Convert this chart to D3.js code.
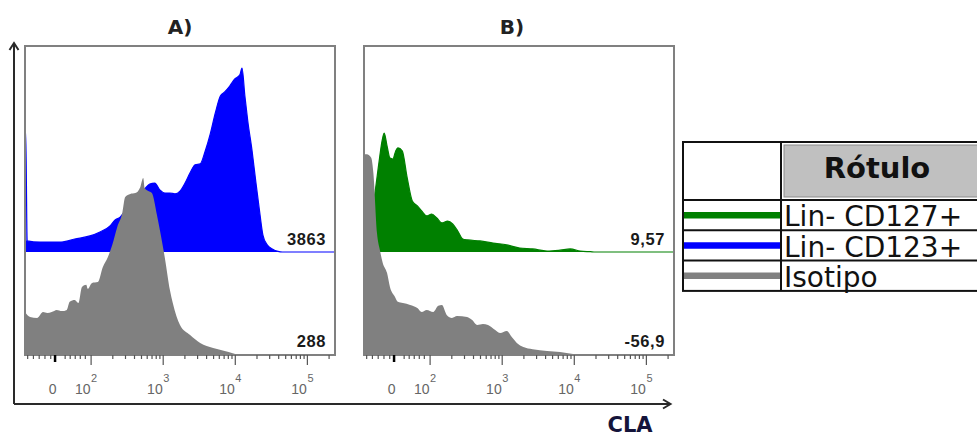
<!DOCTYPE html>
<html>
<head>
<meta charset="utf-8">
<script src="https://cdn.jsdelivr.net/npm/d3@7"></script>
<style>
  body { margin: 0; background: #fff; }
  svg { display: block; }
</style>
</head>
<body>
<svg id="chart" width="977" height="438"></svg>
<script>
// ---- Data -------------------------------------------------------------
// x: display position in log decades (2 = 10^2 ... 5 = 10^5, 1.5 = 0)
// y: events per bin
const panelTitles = ["A)", "B)"];
const legendHeader = "Rótulo";
const legendLabels = ["Lin- CD127+", "Lin- CD123+", "Isotipo"];
const axisTitle = "CLA";

const majorTicks = [1.5, 2, 3, 4, 5];
const majorLabels = [["0", ""], ["10", "2"], ["10", "3"], ["10", "4"], ["10", "5"]];

// Panel A: Lin- CD123+ (offset) over isotype
const cd123A = [
  [1.09, 39], [1.10, 39], [1.12, 3.6], [1.30, 3.2], [1.58, 3.2], [1.78, 4.2],
  [1.99, 5.2], [2.13, 6.5], [2.27, 8.4], [2.34, 10.4], [2.41, 11.3], [2.48, 13.3],
  [2.62, 16.5], [2.75, 20.4], [2.82, 22.0], [2.89, 22.3], [2.96, 20.1], [3.03, 19.1],
  [3.10, 19.1], [3.17, 18.8], [3.24, 19.7], [3.31, 22.3], [3.38, 25.6], [3.45, 28.2],
  [3.52, 28.5], [3.59, 32.7], [3.66, 38.2], [3.73, 45.0], [3.80, 50.5], [3.86, 51.8],
  [3.93, 53.7], [4.00, 56.0], [4.07, 57.3], [4.10, 59.5], [4.14, 50.5], [4.18, 42.4],
  [4.24, 32.7], [4.29, 23.0], [4.35, 12.0], [4.39, 5.5], [4.45, 2.3], [4.52, 1.0],
  [4.60, 0.2], [4.66, 0], [5.39, 0]
];
const isotypeA = [
  [1.09, 13.9], [1.16, 12.3], [1.26, 12.0], [1.34, 13.9], [1.40, 13.6], [1.46, 13.9],
  [1.53, 14.6], [1.60, 14.2], [1.67, 14.6], [1.71, 17.2], [1.78, 17.8], [1.83, 16.8],
  [1.88, 22.0], [1.94, 22.7], [1.96, 21.4], [2.02, 23.3], [2.10, 23.6], [2.17, 28.5],
  [2.24, 31.7], [2.30, 35.6], [2.37, 41.4], [2.44, 46.0], [2.48, 51.1], [2.55, 52.1],
  [2.62, 52.4], [2.69, 54.4], [2.73, 57.3], [2.75, 54.0], [2.80, 53.1], [2.85, 52.4],
  [2.92, 45.3], [2.96, 40.5], [3.03, 31.4], [3.10, 21.0], [3.14, 16.8], [3.24, 9.7],
  [3.38, 6.5], [3.52, 3.9], [3.70, 2.3], [3.86, 1.3], [3.97, 0.6], [4.07, 0], [5.39, 0]
];

// Panel B: Lin- CD127+ (offset) over isotype
const cd127B = [
  [1.09, 4], [1.17, 10], [1.24, 18.8], [1.30, 29.4], [1.34, 35.9], [1.37, 38.5],
  [1.41, 34.3], [1.45, 30.4], [1.49, 30.1], [1.53, 32.7], [1.56, 33.7], [1.62, 32.7],
  [1.69, 23.9], [1.76, 16.5], [1.83, 14.9], [1.89, 13.3], [1.96, 11.7], [2.03, 12.3],
  [2.10, 11.0], [2.17, 9.4], [2.25, 10.0], [2.32, 9.1], [2.39, 6.8], [2.46, 4.2],
  [2.53, 3.9], [2.70, 3.6], [2.88, 2.9], [3.07, 2.3], [3.25, 1.3], [3.43, 1.0],
  [3.63, 0.3], [3.81, 0.6], [3.95, 1.0], [4.09, 0.3], [4.23, 0.1], [4.30, 0], [5.39, 0]
];
const isotypeB = [
  [1.09, 65.0], [1.13, 65.0], [1.19, 63.8], [1.22, 58.9], [1.27, 39.5], [1.31, 34.0],
  [1.35, 29.8], [1.41, 26.5], [1.45, 22.0], [1.52, 18.8], [1.56, 17.2], [1.63, 16.8],
  [1.73, 16.2], [1.83, 15.2], [1.89, 13.9], [1.96, 14.6], [2.05, 13.9], [2.12, 15.9],
  [2.17, 16.2], [2.24, 12.9], [2.31, 12.0], [2.38, 12.6], [2.52, 12.3], [2.59, 11.3],
  [2.66, 9.7], [2.74, 10.0], [2.81, 9.7], [2.91, 8.1], [2.98, 7.1], [3.07, 7.8],
  [3.14, 5.8], [3.21, 3.9], [3.30, 2.6], [3.43, 1.9], [3.63, 1.3], [3.81, 1.0],
  [3.99, 0.3], [4.09, 0], [5.39, 0]
];

// Statistic shown in each panel: [offset series, isotype]
const statsA = ["3863", "288"];
const statsB = ["9,57", "-56,9"];

// ---- Styles / layout --------------------------------------------------
const colors = { cd127: "#008000", cd123: "#0000ff", iso: "#808080" };
const plotTop = 46, plotW = 310, plotH = 309;

const panels = [
  { title: panelTitles[0], left: 25, titleX: 180, upper: cd123A, upperColor: colors.cd123, lower: isotypeA, stats: statsA },
  { title: panelTitles[1], left: 364, titleX: 512, upper: cd127B, upperColor: colors.cd127, lower: isotypeB, stats: statsB }
];

const svg = d3.select("#chart");
svg.append("rect").attr("width", 977).attr("height", 438).attr("fill", "#fff");

const x = d3.scaleLinear().domain([1.09, 5.39]).range([0, plotW]);
const y = d3.scaleLinear().domain([0, 100]).range([plotH, 0]);
const offset = plotH / 3;

// minor ticks: linear zone around zero, then 2..9 x 10^k
const minorTicks = d3.range(1.12, 1.46, 0.08).concat(d3.range(1.64, 1.95, 0.07));
for (let k = 2; k <= 5; k++) {
  for (let m = 2; m <= 9; m++) {
    const v = k + Math.log10(m);
    if (v < 5.39) minorTicks.push(v);
  }
}

const defs = svg.append("defs");

panels.forEach((p, i) => {
  const g = svg.append("g").attr("transform", `translate(${p.left},${plotTop})`);

  defs.append("clipPath").attr("id", "clip" + i)
    .append("rect").attr("width", plotW).attr("height", plotH);

  const body = g.append("g").attr("clip-path", `url(#clip${i})`);

  const upperArea = d3.area()
    .x(d => x(d[0]))
    .y0(plotH - offset)
    .y1(d => y(d[1]) - offset)
    .curve(d3.curveMonotoneX);
  const upperLine = d3.line()
    .x(d => x(d[0]))
    .y(d => y(d[1]) - offset)
    .curve(d3.curveMonotoneX);
  const lowerArea = d3.area()
    .x(d => x(d[0]))
    .y0(plotH)
    .y1(d => y(d[1]))
    .curve(d3.curveMonotoneX);

  body.append("path").datum(p.upper).attr("d", upperArea).attr("fill", p.upperColor);
  body.append("path").datum(p.upper).attr("d", upperLine)
    .attr("fill", "none").attr("stroke", p.upperColor).attr("stroke-width", 1.2);
  body.append("path").datum(p.lower).attr("d", lowerArea).attr("fill", colors.iso);

  // frame
  g.append("rect").attr("width", plotW).attr("height", plotH)
    .attr("fill", "none").attr("stroke", "#808080").attr("stroke-width", 2);

  // statistics
  const statStyle = sel => sel
    .attr("text-anchor", "end")
    .attr("font-family", "'Liberation Sans', Arial, sans-serif")
    .attr("font-weight", "bold").attr("font-size", 16.5)
    .attr("letter-spacing", 0.6)
    .attr("fill", "#1a1a1a");
  g.append("text").attr("x", plotW - 9).attr("y", plotH - offset - 7).text(p.stats[0]).call(statStyle);
  g.append("text").attr("x", plotW - 9).attr("y", plotH - 8).text(p.stats[1]).call(statStyle);

  // axis ticks
  const ax = g.append("g").attr("transform", `translate(0,${plotH})`);
  ax.call(d3.axisBottom(x).tickValues(minorTicks).tickSize(4).tickFormat(""))
    .call(a => a.select(".domain").remove());
  ax.selectAll("line").attr("stroke", "#555").attr("stroke-width", 1.2);

  const axM = g.append("g").attr("transform", `translate(0,${plotH})`);
  axM.call(d3.axisBottom(x).tickValues(majorTicks).tickSize(10).tickFormat(""))
    .call(a => a.select(".domain").remove());
  axM.selectAll("line").attr("stroke", "#555").attr("stroke-width", 1.2);
  axM.selectAll(".tick").filter(d => d === majorTicks[0]).select("line")
    .attr("y2", 7).attr("stroke", "#000").attr("stroke-width", 2.5);

  // tick labels
  majorTicks.forEach((t, j) => {
    const [base, sup] = majorLabels[j];
    const tx = g.append("text")
      .attr("y", plotH + 39)
      .attr("font-family", "'Liberation Sans', Arial, sans-serif")
      .attr("font-size", 14).attr("fill", "#666");
    if (sup) {
      tx.attr("x", x(t)).attr("text-anchor", "end").text(base);
      g.append("text").attr("x", x(t) + 0.5).attr("y", plotH + 27)
        .attr("font-family", "'Liberation Sans', Arial, sans-serif")
        .attr("font-size", 11).attr("fill", "#666").text(sup);
    } else {
      tx.attr("x", x(t) - 2).attr("text-anchor", "middle").text(base);
    }
  });

  // panel title
  svg.append("text").attr("x", p.titleX).attr("y", 34)
    .attr("text-anchor", "middle")
    .attr("font-family", "'DejaVu Sans', Verdana, sans-serif")
    .attr("font-weight", "bold").attr("font-size", 20)
    .attr("fill", "#222").text(p.title);
});

// ---- Outer axes with arrows ------------------------------------------
const axisColor = "#2a2a2a";
svg.append("path").attr("d", "M14,404 V44").attr("stroke", axisColor).attr("stroke-width", 2).attr("fill", "none");
svg.append("path").attr("d", "M14,404 H670").attr("stroke", axisColor).attr("stroke-width", 2).attr("fill", "none");
svg.append("path").attr("d", "M9.5,50 L14,43 L18.5,50").attr("stroke", axisColor).attr("stroke-width", 2).attr("fill", "none");
svg.append("path").attr("d", "M663,399.5 L670.5,404 L663,408.5").attr("stroke", axisColor).attr("stroke-width", 2).attr("fill", "none");

svg.append("text").attr("x", 630).attr("y", 432)
  .attr("text-anchor", "middle")
  .attr("font-family", "'DejaVu Sans', Verdana, sans-serif")
  .attr("font-weight", "bold").attr("font-size", 21)
  .attr("fill", "#14143a").text(axisTitle);

// ---- Legend table -----------------------------------------------------
const lg = svg.append("g");
const lx = 683, lcol = 781, lTop = 142, lHead = 200, rowH = 30.3;
const lBottom = lHead + rowH * 3;
const legendColors = [colors.cd127, colors.cd123, colors.iso];

lg.append("rect").attr("x", lcol + 3).attr("y", lTop + 3)
  .attr("width", 300).attr("height", lHead - lTop - 6)
  .attr("fill", "#c0c0c0").attr("stroke", "#8a8a8a").attr("stroke-width", 1);
lg.append("text").attr("x", 877).attr("y", 178)
  .attr("text-anchor", "middle")
  .attr("font-family", "'DejaVu Sans', Verdana, sans-serif")
  .attr("font-weight", "bold").attr("font-size", 29)
  .attr("fill", "#111").text(legendHeader);

legendLabels.forEach((lab, i) => {
  const rTop = lHead + i * rowH;
  lg.append("line").attr("x1", lx).attr("x2", lcol)
    .attr("y1", rTop + rowH / 2).attr("y2", rTop + rowH / 2)
    .attr("stroke", legendColors[i]).attr("stroke-width", 6.5);
  lg.append("text").attr("x", lcol + 3).attr("y", rTop + rowH - 4)
    .attr("font-family", "'DejaVu Sans', Verdana, sans-serif")
    .attr("font-size", 28).attr("fill", "#111").text(lab);
});

const gridStroke = "#111";
lg.append("rect").attr("x", lx).attr("y", lTop).attr("width", 400).attr("height", lBottom - lTop)
  .attr("fill", "none").attr("stroke", gridStroke).attr("stroke-width", 2);
lg.append("line").attr("x1", lcol).attr("x2", lcol).attr("y1", lTop).attr("y2", lBottom)
  .attr("stroke", gridStroke).attr("stroke-width", 2);
[0, 1, 2].forEach(i => {
  lg.append("line").attr("x1", lx).attr("x2", 977)
    .attr("y1", lHead + i * rowH).attr("y2", lHead + i * rowH)
    .attr("stroke", gridStroke).attr("stroke-width", 2);
});
</script>
</body>
</html>
